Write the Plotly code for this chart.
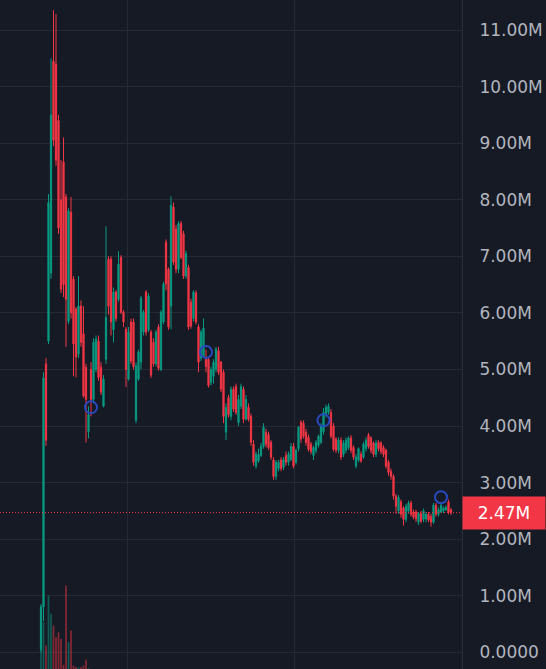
import plotly.graph_objects as go

# 색상
COLOR_UP = "#089981"
COLOR_DOWN = "#f23645"
COLOR_VOL_UP = "rgba(8, 153, 129, 0.5)"
COLOR_VOL_DOWN = "rgba(242, 54, 69, 0.5)"
COLOR_BG = "#161a25"
COLOR_GRID = "#252934"
COLOR_TEXT = "#b2b5be"
COLOR_MARK = "#2749bd"

# 가격 데이터 (단위: M)
open_ = [
    0.05, 0.80, 5.10, 5.50, 6.70, 10.45, 10.40, 9.40, 8.00, 8.67,
    8.05, 5.85, 7.78, 6.60, 6.07, 5.27, 6.12, 5.63, 5.04, 3.90,
    5.00, 4.47, 5.00, 5.50, 5.04, 4.35, 5.18, 6.95, 6.95, 5.70,
    6.37, 6.24, 6.98, 6.01, 5.71, 4.83, 5.84, 5.84, 4.10, 4.83,
    5.13, 5.66, 6.37, 5.70, 5.66, 5.48, 5.10, 5.75, 5.00, 5.84,
    7.25, 6.77, 6.12, 7.87, 7.48, 6.77, 7.58, 7.40, 6.65, 6.80,
    6.19, 5.90, 6.35, 5.75, 5.20, 5.22, 5.18, 5.18, 4.77, 4.88,
    5.00, 5.33, 5.13, 4.95, 3.89, 4.50, 4.17, 4.65, 4.70, 4.06,
    4.35, 4.65, 4.12, 4.33, 4.17, 3.68, 3.29, 3.38, 3.48, 3.64,
    3.89, 3.85, 3.71, 3.40, 3.11, 3.25, 3.40, 3.27, 3.48, 3.36,
    3.41, 3.64, 3.36, 3.60, 4.07, 4.05, 3.89, 3.80, 3.68, 3.48,
    3.57, 3.66, 3.71, 3.90, 4.20, 4.24, 4.24, 4.00, 3.77, 3.57,
    3.75, 3.50, 3.57, 3.62, 3.79, 3.62, 3.29, 3.40, 3.50, 3.45,
    3.60, 3.84, 3.79, 3.70, 3.50, 3.71, 3.70, 3.62, 3.57, 3.36,
    3.20, 3.11, 2.76, 2.50, 2.66, 2.55, 2.35, 2.50, 2.64, 2.48,
    2.48, 2.30, 2.45, 2.35, 2.36, 2.44, 2.40, 2.30, 2.60, 2.44,
    2.48, 2.50, 2.52, 2.66, 2.52,
]
high = [
    0.85, 4.95, 5.20, 8.10, 10.50, 11.35, 11.28, 9.50, 8.70, 9.10,
    8.10, 7.85, 8.05, 6.65, 6.10, 6.65, 6.22, 6.12, 5.10, 4.35,
    5.13, 5.55, 5.60, 5.60, 5.13, 4.90, 7.53, 7.00, 7.00, 6.45,
    6.40, 7.09, 7.02, 6.05, 5.75, 5.75, 5.90, 5.90, 5.12, 5.35,
    6.30, 6.05, 6.40, 6.35, 5.70, 5.55, 5.70, 5.80, 6.05, 6.55,
    7.30, 6.80, 8.06, 7.95, 7.55, 7.62, 7.62, 7.45, 7.10, 6.85,
    6.25, 6.40, 6.40, 5.80, 5.70, 5.90, 5.35, 5.20, 5.05, 5.18,
    5.40, 5.40, 5.15, 5.00, 4.40, 4.55, 4.70, 4.70, 4.75, 4.55,
    4.75, 4.70, 4.55, 4.40, 4.22, 3.75, 3.55, 3.60, 3.70, 4.05,
    3.95, 3.90, 3.75, 3.45, 3.40, 3.40, 3.45, 3.45, 3.55, 3.55,
    3.70, 3.70, 3.60, 4.00, 4.10, 4.10, 3.95, 3.85, 3.72, 3.65,
    3.75, 3.85, 4.05, 4.32, 4.38, 4.40, 4.30, 4.05, 3.80, 3.80,
    3.80, 3.75, 3.80, 3.82, 3.84, 3.66, 3.50, 3.62, 3.55, 3.72,
    3.80, 3.88, 3.82, 3.73, 3.75, 3.75, 3.73, 3.66, 3.60, 3.40,
    3.25, 3.15, 2.80, 2.78, 2.70, 2.58, 2.62, 2.68, 2.68, 2.52,
    2.52, 2.48, 2.50, 2.54, 2.48, 2.48, 2.45, 2.64, 2.64, 2.56,
    2.65, 2.58, 2.60, 2.70, 2.55,
]
low = [
    0.00, 0.55, 3.65, 5.45, 6.60, 8.95, 8.60, 7.40, 6.35, 6.28,
    5.40, 5.80, 5.90, 4.88, 4.86, 5.20, 5.40, 4.50, 3.71, 3.78,
    4.17, 4.40, 4.95, 4.80, 4.55, 4.33, 5.10, 5.97, 5.60, 5.48,
    5.85, 6.20, 5.98, 5.75, 4.69, 4.80, 5.10, 5.00, 4.05, 4.80,
    5.00, 5.60, 5.60, 5.66, 4.85, 5.05, 5.05, 4.98, 4.97, 5.80,
    6.40, 5.70, 5.71, 6.85, 6.70, 6.70, 6.95, 6.60, 6.60, 5.70,
    5.72, 5.85, 5.80, 4.95, 5.15, 5.20, 4.95, 4.68, 4.72, 4.75,
    4.95, 4.90, 4.60, 4.05, 3.75, 4.15, 4.10, 4.25, 4.20, 4.00,
    4.30, 4.05, 4.10, 4.08, 3.65, 3.30, 3.25, 3.35, 3.45, 3.60,
    3.62, 3.58, 3.40, 3.05, 3.05, 3.20, 3.20, 3.22, 3.30, 3.30,
    3.38, 3.25, 3.32, 3.55, 3.70, 3.78, 3.65, 3.55, 3.50, 3.40,
    3.52, 3.62, 3.68, 3.85, 4.15, 4.20, 3.78, 3.55, 3.52, 3.52,
    3.40, 3.45, 3.52, 3.58, 3.52, 3.40, 3.25, 3.36, 3.35, 3.42,
    3.55, 3.60, 3.52, 3.45, 3.45, 3.55, 3.50, 3.45, 3.25, 3.12,
    3.05, 2.70, 2.45, 2.45, 2.38, 2.24, 2.30, 2.45, 2.40, 2.35,
    2.30, 2.25, 2.28, 2.30, 2.30, 2.30, 2.22, 2.27, 2.40, 2.40,
    2.46, 2.46, 2.50, 2.44, 2.43,
]
close = [
    0.80, 4.85, 3.75, 7.95, 9.50, 9.05, 8.70, 7.50, 6.42, 6.50,
    6.24, 7.80, 6.00, 5.45, 5.22, 6.12, 5.48, 4.53, 4.47, 4.20,
    4.47, 5.48, 5.54, 4.86, 4.60, 4.83, 5.92, 6.12, 5.84, 6.37,
    5.90, 6.86, 6.01, 5.84, 5.00, 5.66, 5.15, 5.05, 5.06, 5.31,
    6.26, 6.01, 5.66, 6.30, 4.90, 5.10, 5.66, 5.02, 6.01, 6.51,
    6.51, 5.75, 7.90, 6.90, 6.77, 7.58, 6.98, 6.65, 7.05, 5.75,
    5.77, 6.37, 5.84, 5.13, 5.66, 5.73, 5.05, 4.72, 5.00, 5.13,
    5.36, 4.95, 4.65, 4.17, 4.33, 4.20, 4.65, 4.30, 4.24, 4.47,
    4.70, 4.12, 4.47, 4.12, 3.71, 3.36, 3.50, 3.50, 3.64, 3.98,
    3.68, 3.62, 3.45, 3.11, 3.36, 3.36, 3.25, 3.41, 3.36, 3.50,
    3.64, 3.29, 3.57, 3.98, 3.77, 3.82, 3.71, 3.59, 3.55, 3.62,
    3.71, 3.82, 4.00, 4.24, 4.33, 4.35, 3.82, 3.59, 3.57, 3.75,
    3.45, 3.70, 3.75, 3.79, 3.57, 3.45, 3.45, 3.60, 3.38, 3.68,
    3.75, 3.64, 3.57, 3.50, 3.70, 3.60, 3.55, 3.50, 3.29, 3.18,
    3.11, 2.76, 2.58, 2.74, 2.44, 2.35, 2.58, 2.64, 2.44, 2.39,
    2.36, 2.45, 2.32, 2.50, 2.44, 2.34, 2.30, 2.60, 2.44, 2.52,
    2.60, 2.55, 2.56, 2.47, 2.47,
]
volume = [
    38, 28, 14, 44, 33, 26, 19, 22, 18, 2.5,
    50, 16, 23, 2, 1.2, 1, 1, 2, 5.5, 0.5,
] + [0] * 145

# 표시 마커 (캔들 인덱스, 가격 M)
marker_idx = [20, 66, 113, 160]
marker_price = [4.33, 5.31, 4.10, 2.74]

# 축 눈금
tick_vals = list(range(12))
tick_text = ["0.0000"] + [f"{v}.00M" for v in range(1, 12)]
grid_x = [34.5, 101.4]

idx = list(range(len(close)))
last_price = close[-1]
vol_colors = [COLOR_VOL_UP if c >= o else COLOR_VOL_DOWN for o, c in zip(open_, close)]

fig = go.Figure()

# 거래량 (아래층)
fig.add_trace(go.Bar(
    x=idx, y=volume,
    marker=dict(color=vol_colors, line=dict(width=0)),
    width=0.7,
    yaxis="y",
    hoverinfo="skip",
))

# 캔들
fig.add_trace(go.Candlestick(
    x=idx, open=open_, high=high, low=low, close=close,
    increasing=dict(line=dict(color=COLOR_UP, width=1), fillcolor=COLOR_UP),
    decreasing=dict(line=dict(color=COLOR_DOWN, width=1), fillcolor=COLOR_DOWN),
    whiskerwidth=0,
    yaxis="y2",
))

# 원형 마커
fig.add_trace(go.Scatter(
    x=marker_idx, y=marker_price,
    mode="markers",
    marker=dict(symbol="circle-open", size=12, color=COLOR_MARK, line=dict(width=2)),
    yaxis="y2",
))

# 현재가 점선
fig.add_shape(
    type="line", xref="paper", x0=0, x1=1, yref="y2", y0=last_price, y1=last_price,
    line=dict(color=COLOR_DOWN, width=1, dash="1px,2px"),
)
fig.add_annotation(
    xref="paper", x=546 / 462, xanchor="right",
    yref="y2", y=last_price, yanchor="middle",
    text=f"{last_price:.2f}M",
    showarrow=False,
    bgcolor=COLOR_DOWN,
    width=80, height=30,
    font=dict(family="DejaVu Sans", size=17, color="#ffffff"),
)

fig.update_layout(
    width=546, height=669,
    margin=dict(l=0, r=84, t=0, b=0),
    paper_bgcolor=COLOR_BG,
    plot_bgcolor=COLOR_BG,
    showlegend=False,
    font=dict(family="DejaVu Sans", color=COLOR_TEXT),
    xaxis=dict(
        range=[-16.4, 168.4],
        rangeslider=dict(visible=False),
        tickvals=grid_x, showticklabels=False,
        showgrid=True, gridcolor=COLOR_GRID, gridwidth=1,
        zeroline=False, showline=False,
    ),
    yaxis=dict(range=[0, 400], visible=False, showgrid=False),
    yaxis2=dict(
        overlaying="y", side="right",
        range=[-0.295, 11.531],
        tickvals=tick_vals, ticktext=tick_text,
        tickfont=dict(family="DejaVu Sans", size=17, color=COLOR_TEXT),
        ticks="", ticklabelstandoff=13,
        showgrid=True, gridcolor=COLOR_GRID, gridwidth=1,
        zeroline=False,
        showline=True, linecolor="#2a2e39", linewidth=1,
    ),
)

fig.write_html(
    "out.html",
    config={"displayModeBar": False},
    post_script="document.body.style.margin='0';document.body.style.overflow='hidden';",
)
